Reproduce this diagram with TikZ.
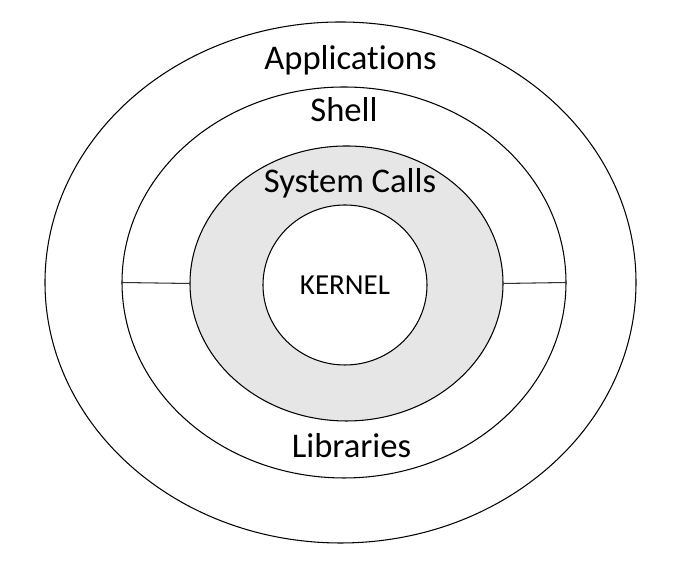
\documentclass[tikz,border=0pt]{standalone}
\usepackage{fontspec}
\setmainfont[Ligatures=NoCommon]{Carlito}
\usetikzlibrary{shapes.geometric, calc}

\definecolor{ringgray}{RGB}{231,230,230}

\begin{document}
\begin{tikzpicture}[
		% Style for the nested rings
		ring/.style={ellipse, draw=black, line width=0.6pt, inner sep=0pt, fill=white},
		% Style for the ring labels
		ring label/.style={anchor=base, font=\fontsize{19.7}{24}\selectfont},
		% Connector style
		divider/.style={draw=black!80, line width=0.6pt}
		]
		
		\useasboundingbox (0,0) rectangle (13.76,11.24);
		
		% ==============================================================================
		% 1. RINGS
		% ==============================================================================
		\node[ring, minimum width=11.82cm, minimum height=10.42cm] (apps) at (6.81, 5.59) {};
		\node[ring, minimum width=8.88cm, minimum height=7.82cm] (shell) at (6.88, 5.59) {};
		\node[ring, fill=ringgray, minimum width=6.26cm, minimum height=5.5cm] (calls) at (6.93, 5.57) {};
		\node[ring, minimum width=3.28cm, minimum height=3.2cm,
			font=\fontsize{16.5}{20}\selectfont] (kernel) at (6.90, 5.54) {KERNEL};
		
		% ==============================================================================
		% 2. LABELS
		% ==============================================================================
		\node[ring label] (apps label) at (7.01, 9.84) {Applications};
		\node[ring label] (shell label) at (6.88, 8.80) {Shell};
		\node[ring label] (calls label) at (7.00, 7.38) {System Calls};
		\node[ring label] (libs label) at (7.03, 2.08) {Libraries};
		
		% ==============================================================================
		% 3. DIVIDERS
		% ==============================================================================
		\draw[divider] (shell.west) -- (calls.west);
		\draw[divider] (calls.east) -- (shell.east);
	\end{tikzpicture}
\end{document}
